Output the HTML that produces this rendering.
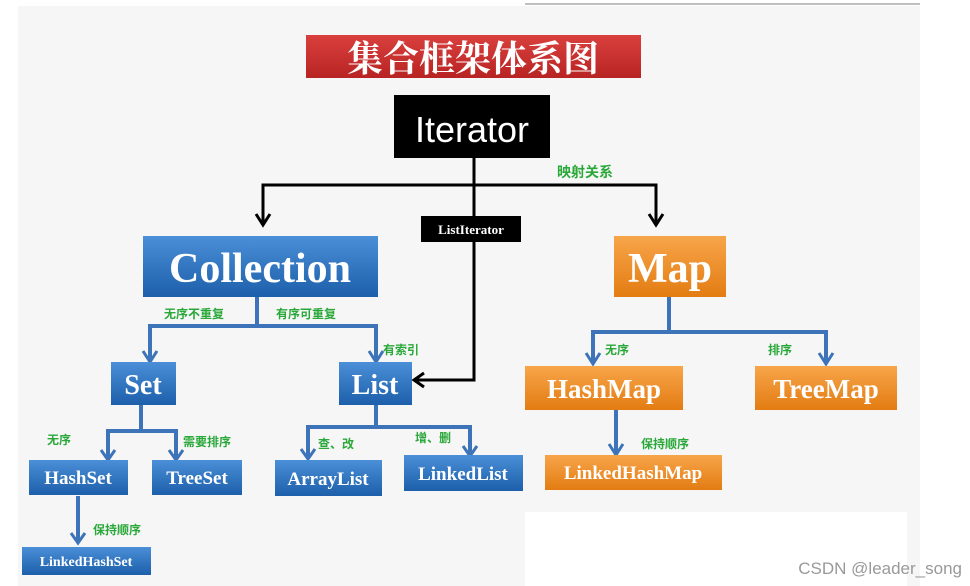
<!DOCTYPE html>
<html><head><meta charset="utf-8"><style>
html,body{margin:0;padding:0;background:#fff;width:970px;height:586px;overflow:hidden}
.sf{font-family:"Liberation Serif","Noto Serif CJK SC",serif}
.ss{font-family:"Liberation Sans",sans-serif}
.cj{font-family:"Noto Sans CJK SC",sans-serif}
.ct{font-family:"Noto Serif CJK SC",serif}
</style></head><body>
<svg width="970" height="586" viewBox="0 0 970 586" xmlns="http://www.w3.org/2000/svg">
<defs>
<linearGradient id="bl" x1="0" y1="0" x2="0" y2="1"><stop offset="0" stop-color="#4b8fd8"/><stop offset="1" stop-color="#1d5faa"/></linearGradient>
<linearGradient id="or" x1="0" y1="0" x2="0" y2="1"><stop offset="0" stop-color="#f7a54a"/><stop offset="1" stop-color="#e37c12"/></linearGradient>
<linearGradient id="rd" x1="0" y1="0" x2="0" y2="1"><stop offset="0" stop-color="#d9403d"/><stop offset="1" stop-color="#b82423"/></linearGradient>
</defs>
<rect x="18" y="6" width="902" height="580" fill="#f6f6f6"/>
<line x1="525" y1="4" x2="920" y2="4" stroke="#aaa" stroke-width="1.5"/>
<rect x="525" y="512" width="382" height="74" fill="#fff"/>
<rect x="306" y="35" width="335" height="43" fill="url(#rd)"/>
<text class="ct" x="473" y="71" font-size="36" fill="#fff" text-anchor="middle" font-weight="bold">集合框架体系图</text>
<rect x="394" y="95" width="156" height="63" fill="#000"/>
<text class="ss" x="472" y="142" font-size="36" fill="#fff" text-anchor="middle">Iterator</text>
<text class="cj" x="585" y="177" font-size="14" fill="#2aa83a" text-anchor="middle" font-weight="bold">映射关系</text>
<g stroke="#000" stroke-width="3" fill="none">
<path d="M263 224 V185 H656 V224"/>
<path d="M474 158 V380 H415"/>
<path d="M256 214 L263 225 L270 214"/>
<path d="M649 214 L656 225 L663 214"/>
<path d="M424 373 L414 380 L424 387"/>
</g>
<rect x="421" y="216" width="100" height="26" fill="#000"/>
<text class="sf" x="471" y="234" font-size="13" fill="#fff" text-anchor="middle" font-weight="bold">ListIterator</text>
<rect x="143" y="236" width="235" height="61" fill="url(#bl)"/>
<text class="sf" x="260" y="282" font-size="42" fill="#fff" text-anchor="middle" font-weight="bold">Collection</text>
<rect x="614" y="236" width="112" height="61" fill="url(#or)"/>
<text class="sf" x="670" y="282" font-size="42" fill="#fff" text-anchor="middle" font-weight="bold">Map</text>
<g stroke="#3d73b8" stroke-width="4" fill="none">
<path d="M257 297 V326"/><path d="M150 360 V326 H376 V360"/>
<path d="M141 405 V431"/><path d="M108 459 V431 H176 V459"/>
<path d="M376 405 V427"/><path d="M308 458 V427 H470 V455"/>
<path d="M78 496 V542"/>
<path d="M669 297 V332"/><path d="M593 362 V332 H826 V362"/>
<path d="M616 410 V453"/>
<g stroke-width="3">
<path d="M143 351 L150 362 L157 351"/><path d="M369 351 L376 362 L383 351"/>
<path d="M101 450 L108 460 L115 450"/><path d="M169 450 L176 460 L183 450"/>
<path d="M301 449 L308 459 L315 449"/><path d="M463 446 L470 456 L477 446"/>
<path d="M71 533 L78 543 L85 533"/>
<path d="M586 353 L593 364 L600 353"/><path d="M819 353 L826 364 L833 353"/>
<path d="M609 444 L616 455 L623 444"/>
</g></g>
<g class="cj" font-size="12" fill="#2aa83a" font-weight="bold">
<text x="164" y="318">无序不重复</text><text x="276" y="318">有序可重复</text>
<text x="383" y="354">有索引</text>
<text x="47" y="444">无序</text><text x="183" y="446">需要排序</text>
<text x="318" y="448">查、改</text><text x="415" y="442">增、删</text>
<text x="93" y="534">保持顺序</text>
<text x="605" y="354">无序</text><text x="768" y="354">排序</text>
<text x="641" y="448">保持顺序</text>
</g>
<g class="sf" fill="#fff" text-anchor="middle" font-weight="bold">
<rect x="111" y="362" width="65" height="43" fill="url(#bl)"/>
<text x="143" y="394" font-size="28">Set</text>
<rect x="339" y="362" width="73" height="43" fill="url(#bl)"/>
<text x="375" y="394" font-size="28">List</text>
<rect x="525" y="366" width="158" height="44" fill="url(#or)"/>
<text x="604" y="398" font-size="27">HashMap</text>
<rect x="755" y="366" width="142" height="44" fill="url(#or)"/>
<text x="826" y="398" font-size="27">TreeMap</text>
<rect x="29" y="460" width="99" height="35" fill="url(#bl)"/>
<text x="78" y="484" font-size="19">HashSet</text>
<rect x="152" y="460" width="90" height="35" fill="url(#bl)"/>
<text x="197" y="484" font-size="19">TreeSet</text>
<rect x="275" y="460" width="107" height="36" fill="url(#bl)"/>
<text x="328" y="485" font-size="19">ArrayList</text>
<rect x="404" y="455" width="119" height="36" fill="url(#bl)"/>
<text x="463" y="480" font-size="19">LinkedList</text>
<rect x="545" y="455" width="177" height="35" fill="url(#or)"/>
<text x="633" y="479" font-size="19">LinkedHashMap</text>
<rect x="22" y="547" width="129" height="28" fill="url(#bl)"/>
<text x="86" y="566" font-size="14">LinkedHashSet</text>
</g>
<text class="ss" x="962" y="574" font-size="17" fill="#999" text-anchor="end">CSDN @leader_song</text>
</svg>
</body></html>
